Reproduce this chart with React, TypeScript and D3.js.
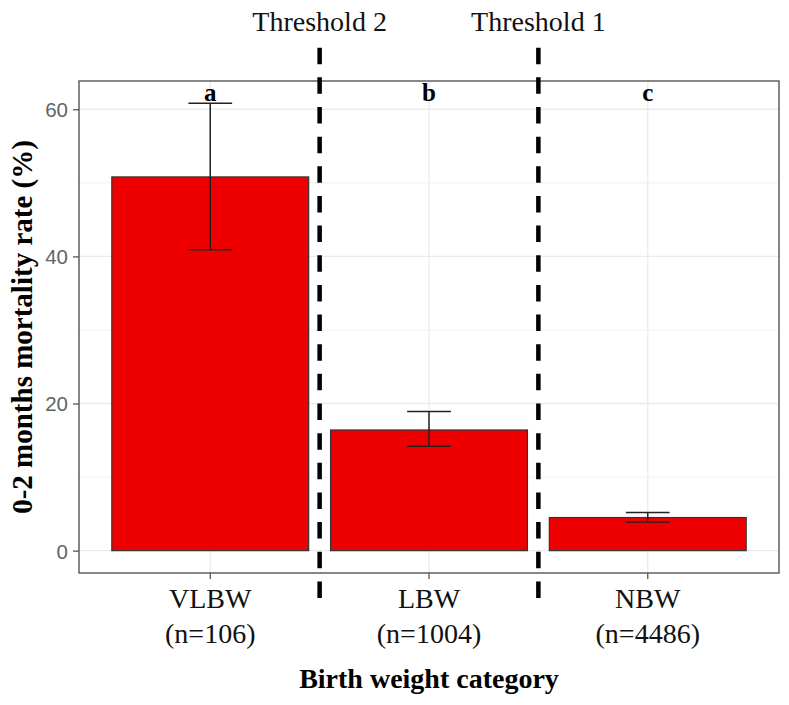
import * as d3 from 'd3'
import React, { useEffect, useRef } from 'react'

const categories = ['VLBW', 'LBW', 'NBW']
const sampleLabels = ['(n=106)', '(n=1004)', '(n=4486)']
const rates = [50.8, 16.4, 4.5]
const lowerCI = [40.9, 14.2, 3.9]
const upperCI = [60.8, 18.9, 5.2]
const groupLetters = ['a', 'b', 'c']
const thresholdLabels = ['Threshold 2', 'Threshold 1']
const yTicks = [0, 20, 40, 60]
const yMinorTicks = [10, 30, 50]

const width = 789
const height = 705
const serif = '"Liberation Serif", "Times New Roman", serif'
const sans = '"Liberation Sans", Arial, sans-serif'

const App: React.FC = () => {
  const ref = useRef<SVGSVGElement | null>(null)

  useEffect(() => {
    const margin = { top: 81, right: 10, bottom: 132, left: 79 }
    const innerW = width - margin.left - margin.right
    const innerH = height - margin.top - margin.bottom

    const svg = d3.select(ref.current)
    svg.selectAll('*').remove()

    const x = d3.scaleBand().domain(categories).range([0, innerW]).paddingInner(0).paddingOuter(0.1)
    const step = x.step()
    const cx = (c: string) => (x(c) || 0) + step / 2

    // ggplot-style 5% expansion around 0..max upper
    const yMax = d3.max(upperCI) || 0
    const pad = yMax * 0.05
    const y = d3.scaleLinear().domain([-pad, yMax + pad]).range([innerH, 0])

    const g = svg.append('g').attr('transform', 'translate(' + margin.left + ',' + margin.top + ')')

    // grid
    g.selectAll('.minor')
      .data(yMinorTicks)
      .enter()
      .append('line')
      .attr('x1', 0)
      .attr('x2', innerW)
      .attr('y1', (d) => y(d))
      .attr('y2', (d) => y(d))
      .attr('stroke', '#ededed')
      .attr('stroke-width', 0.8)

    g.selectAll('.major')
      .data(yTicks)
      .enter()
      .append('line')
      .attr('x1', 0)
      .attr('x2', innerW)
      .attr('y1', (d) => y(d))
      .attr('y2', (d) => y(d))
      .attr('stroke', '#ebebeb')
      .attr('stroke-width', 1.3)

    g.selectAll('.vgrid')
      .data(categories)
      .enter()
      .append('line')
      .attr('x1', (d) => cx(d))
      .attr('x2', (d) => cx(d))
      .attr('y1', 0)
      .attr('y2', innerH)
      .attr('stroke', '#ebebeb')
      .attr('stroke-width', 1.3)

    // bars
    const barW = step * 0.9
    g.selectAll('.bar')
      .data(categories)
      .enter()
      .append('rect')
      .attr('x', (d) => cx(d) - barW / 2)
      .attr('width', barW)
      .attr('y', (d, i) => y(rates[i]))
      .attr('height', (d, i) => y(0) - y(rates[i]))
      .attr('fill', '#ee0000')
      .attr('stroke', '#333')
      .attr('stroke-width', 1.2)

    // error bars
    const capW = step * 0.2
    categories.forEach((c, i) => {
      const eg = g.append('g').attr('stroke', '#222').attr('stroke-width', 1.5)
      eg.append('line').attr('x1', cx(c)).attr('x2', cx(c)).attr('y1', y(lowerCI[i])).attr('y2', y(upperCI[i]))
      eg.append('line').attr('x1', cx(c) - capW / 2).attr('x2', cx(c) + capW / 2).attr('y1', y(lowerCI[i])).attr('y2', y(lowerCI[i]))
      eg.append('line').attr('x1', cx(c) - capW / 2).attr('x2', cx(c) + capW / 2).attr('y1', y(upperCI[i])).attr('y2', y(upperCI[i]))
    })

    // significance letters
    g.selectAll('.letter')
      .data(groupLetters)
      .enter()
      .append('text')
      .attr('x', (d, i) => cx(categories[i]))
      .attr('y', 20)
      .attr('text-anchor', 'middle')
      .attr('font-family', serif)
      .attr('font-weight', 'bold')
      .attr('font-size', 25)
      .text((d) => d)

    // panel border
    g.append('rect')
      .attr('width', innerW)
      .attr('height', innerH)
      .attr('fill', 'none')
      .attr('stroke', '#555')
      .attr('stroke-width', 1.4)

    // y axis
    const yAxis = g.append('g').call(d3.axisLeft(y).tickValues(yTicks).tickSize(6).tickPadding(5))
    yAxis.select('.domain').remove()
    yAxis.selectAll('line').attr('stroke', '#555').attr('stroke-width', 1.3)
    yAxis
      .selectAll('text')
      .attr('fill', '#5f6468')
      .attr('font-family', sans)
      .attr('font-size', 20.5)
      .attr('dy', '0.36em')

    // x axis
    const xAxis = g
      .append('g')
      .attr('transform', 'translate(0,' + innerH + ')')
      .call(d3.axisBottom(x).tickSize(6).tickFormat(() => ''))
    xAxis.select('.domain').remove()
    xAxis.selectAll('line').attr('stroke', '#555').attr('stroke-width', 1.3)

    categories.forEach((c, i) => {
      const t = g
        .append('text')
        .attr('text-anchor', 'middle')
        .attr('font-family', serif)
        .attr('font-size', 28)
        .attr('fill', '#111')
      t.append('tspan').attr('x', cx(c)).attr('y', innerH + 35).text(c)
      t.append('tspan').attr('x', cx(c)).attr('y', innerH + 70).text(sampleLabels[i])
    })

    // threshold dashed lines
    thresholdLabels.forEach((label, i) => {
      const tx = (x(categories[i]) || 0) + step
      svg
        .append('line')
        .attr('x1', margin.left + tx)
        .attr('x2', margin.left + tx)
        .attr('y1', 47.7)
        .attr('y2', 598)
        .attr('stroke', '#000')
        .attr('stroke-width', 4.5)
        .attr('stroke-dasharray', '16.5 13.15')
      svg
        .append('text')
        .attr('x', margin.left + tx)
        .attr('y', 30.5)
        .attr('text-anchor', 'middle')
        .attr('font-family', serif)
        .attr('font-size', 28)
        .attr('fill', '#111')
        .text(label)
    })

    // axis titles
    svg
      .append('text')
      .attr('x', margin.left + innerW / 2)
      .attr('y', 688)
      .attr('text-anchor', 'middle')
      .attr('font-family', serif)
      .attr('font-weight', 'bold')
      .attr('font-size', 28)
      .text('Birth weight category')

    svg
      .append('text')
      .attr('transform', 'translate(32,' + (margin.top + innerH / 2) + ') rotate(-90)')
      .attr('text-anchor', 'middle')
      .attr('font-family', serif)
      .attr('font-weight', 'bold')
      .attr('font-size', 29)
      .text('0-2 months mortality rate (%)')
  }, [])

  return (
    <svg
      ref={ref}
      width={width}
      height={height}
      style={{ position: 'absolute', left: 0, top: 0, background: '#fff' }}
    />
  )
}

export default App
